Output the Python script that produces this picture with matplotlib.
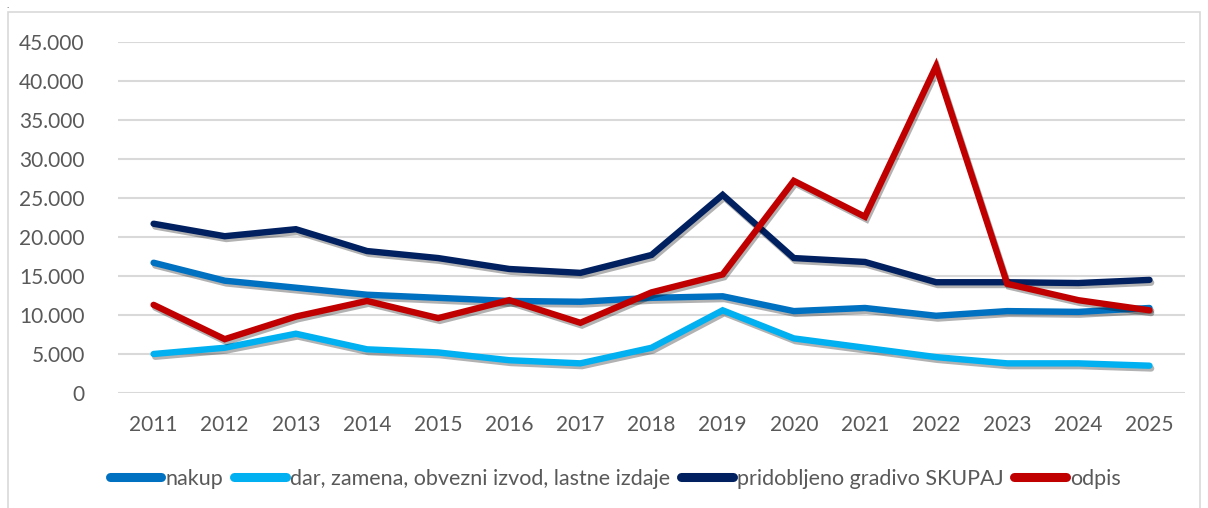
import numpy as np
import matplotlib.pyplot as plt
import matplotlib.patheffects as pe
from matplotlib.ticker import FuncFormatter

years = list(range(2011, 2026))

nakup = [16700, 14400, 13500, 12600, 12200, 11800, 11700, 12200, 12400,
         10500, 10900, 9900, 10500, 10400, 10900]
dar = [5000, 5800, 7600, 5600, 5200, 4200, 3800, 5800, 10600,
       7000, 5800, 4600, 3800, 3800, 3500]
skupaj = [21700, 20100, 21000, 18200, 17300, 15900, 15400, 17700, 25400,
          17300, 16800, 14200, 14200, 14100, 14500]
odpis = [11300, 6900, 9800, 11800, 9600, 11900, 9000, 12900, 15200,
         27200, 22600, 41900, 14000, 11900, 10600]

series = {
    "nakup": (nakup, "#0070c0"),
    "dar, zamena, obvezni izvod, lastne izdaje": (dar, "#00b0f0"),
    "pridobljeno gradivo SKUPAJ": (skupaj, "#002060"),
    "odpis": (odpis, "#c00000"),
}

plt.rcParams['font.family'] = ['Lato', 'DejaVu Sans']

fig = plt.figure(figsize=(12.08, 5.08), dpi=100)
ax = fig.add_axes([0.0977, 0.2264, 0.8833, 0.6909])

# light frame around the whole chart
fig.patches.append(plt.Rectangle((8 / 1208, -0.01), 1192 / 1208, 1 - 12 / 508 + 0.01,
                                 transform=fig.transFigure, fill=False,
                                 edgecolor="#d9d9d9", linewidth=1.2))
fig.text(6 / 1208, 1 - 5 / 508, ".", fontsize=7, color="#404040", va="center")

shadow = [pe.SimpleLineShadow(offset=(1.2, -2.0), alpha=0.3, shadow_color="black"),
          pe.Normal()]

for label, (vals, color) in series.items():
    ax.plot(years, vals, color=color, linewidth=4.6, label=label,
            solid_capstyle="round", solid_joinstyle="miter", path_effects=shadow)

ax.set_xlim(2010.5, 2025.5)
ax.set_ylim(0, 45000)
ax.set_yticks(np.arange(0, 45001, 5000))
ax.set_xticks(years)
ax.yaxis.set_major_formatter(FuncFormatter(lambda v, p: f"{int(v):,}".replace(",", ".")))
ax.grid(axis="y", color="#d9d9d9", linewidth=1.5)
ax.set_axisbelow(True)
for s in ax.spines.values():
    s.set_visible(False)
ax.tick_params(length=0, labelsize=15, colors="#595959", pad=10)
ax.tick_params(axis="x", pad=16)
ax.tick_params(axis="y", pad=24)

leg = ax.legend(loc="center", bbox_to_anchor=(0.466, -0.245), ncol=4, frameon=False,
                fontsize=15.5, handlelength=2.4, handletextpad=0.2, columnspacing=0.5,
                labelcolor="#595959")
for h in leg.get_lines():
    h.set_linewidth(6.5)
    h.set_solid_capstyle("round")
    h.set_path_effects([])

fig.savefig("out.png", dpi=100)
